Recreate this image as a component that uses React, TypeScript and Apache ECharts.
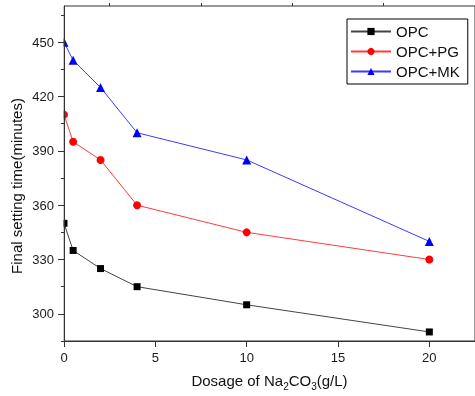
import React, { useEffect, useRef } from "react";
import * as echarts from "echarts";

const dosage = [0, 0.5, 2, 4, 10, 20];
const opc = [350, 335, 325, 315, 305, 290];
const opcPG = [410, 395, 385, 360, 345, 330];
const opcMK = [450, 440, 425, 400, 385, 340];
const yMajorTicks = [300, 330, 360, 390, 420, 450];
const yMinorTicks = [285, 315, 345, 375, 405, 435, 465];
const xMajorTicks = [0, 5, 10, 15, 20];
const xMinorTicks = [2.5, 7.5, 12.5, 17.5, 22.5];
const seriesNames = ["OPC", "OPC+PG", "OPC+MK"];

const FONT = "'Liberation Sans', Arial, sans-serif";
const AXIS = "#333";

export default function App() {
  const ref = useRef<HTMLDivElement>(null);
  useEffect(() => {
    document.body.style.margin = "0";
    const chart = echarts.init(ref.current!, null, { renderer: "svg" });
    const pts = (ys: number[]) => dosage.map((x, i) => [x, ys[i]]);
    const baseAxis = {
      min: 0,
      max: 22.5,
      type: "value" as const,
      splitLine: { show: false },
    };
    chart.setOption({
      animation: false,
      textStyle: { fontFamily: FONT },
      grid: {
        left: 64,
        top: 6,
        right: -3,
        bottom: 52,
        show: true,
        borderColor: AXIS,
        borderWidth: 1,
        backgroundColor: "transparent",
      },
      legend: {
        orient: "vertical",
        left: 347,
        top: 19,
        borderColor: "#000",
        borderWidth: 1,
        backgroundColor: "#fff",
        padding: [5, 8, 5, 3],
        itemWidth: 40,
        itemHeight: 9,
        itemGap: 5,
        textStyle: { fontSize: 15, color: "#111", fontFamily: FONT },
        data: seriesNames,
        z: 10,
      },
      xAxis: [
        {
          ...baseAxis,
          z: 5,
          axisLine: { show: true, lineStyle: { color: AXIS, width: 1 } },
          axisTick: {
            show: true,
            inside: false,
            length: 6,
            customValues: xMajorTicks,
            lineStyle: { color: AXIS },
          },
          axisLabel: {
            customValues: xMajorTicks,
            fontSize: 13,
            color: "#1a1a1a",
            margin: 10,
          },
          name: "{a|Dosage of Na}{s|2}{a|CO}{s|3}{a|(g/L)}",
          nameLocation: "middle",
          nameGap: 28,
          nameTextStyle: {
            rich: {
              a: { fontSize: 15, color: "#111", lineHeight: 22, fontFamily: FONT },
              s: { fontSize: 10, color: "#111", lineHeight: 10, verticalAlign: "bottom", fontFamily: FONT },
            },
          },
        },
        {
          ...baseAxis,
          z: 5,
          axisLine: { show: false },
          axisTick: {
            show: true,
            inside: false,
            length: 3,
            customValues: xMinorTicks,
            lineStyle: { color: AXIS },
          },
          axisLabel: { show: false },
        },
      ],
      yAxis: [
        {
          type: "value",
          min: 285,
          max: 470,
          z: 5,
          splitLine: { show: false },
          axisLine: { show: true, lineStyle: { color: AXIS, width: 1 } },
          axisTick: {
            show: true,
            inside: false,
            length: 6,
            customValues: yMajorTicks,
            lineStyle: { color: AXIS },
          },
          axisLabel: {
            customValues: yMajorTicks,
            fontSize: 13,
            color: "#1a1a1a",
            margin: 10,
          },
        },
        {
          type: "value",
          min: 285,
          max: 470,
          position: "left",
          z: 5,
          splitLine: { show: false },
          axisLine: { show: false },
          axisTick: {
            show: true,
            inside: false,
            length: 3,
            customValues: yMinorTicks,
            lineStyle: { color: AXIS },
          },
          axisLabel: { show: false },
        },
      ],
      graphic: [
        {
          type: "rect",
          shape: { x: 50, y: 6, width: 13.5, height: 338 },
          style: { fill: "#fff" },
          z: 3,
          silent: true,
        },
        {
          type: "text",
          x: 16,
          y: 186,
          rotation: Math.PI / 2,
          style: {
            text: "Final setting time(minutes)",
            font: `15px ${FONT}`,
            fill: "#111",
            align: "center",
            verticalAlign: "middle",
          },
          z: 6,
        },
      ],
      series: [
        {
          name: seriesNames[0],
          type: "line",
          data: pts(opc),
          symbol: "rect",
          symbolSize: 7,
          itemStyle: { color: "#000" },
          lineStyle: { color: "#444", width: 1 },
          clip: false,
          z: 2,
        },
        {
          name: seriesNames[1],
          type: "line",
          data: pts(opcPG),
          symbol: "circle",
          symbolSize: 8,
          itemStyle: { color: "#ff0000" },
          lineStyle: { color: "#ff3b3b", width: 1 },
          clip: false,
          z: 2,
        },
        {
          name: seriesNames[2],
          type: "line",
          data: pts(opcMK),
          symbol: "triangle",
          symbolSize: 9,
          itemStyle: { color: "#0000ff" },
          lineStyle: { color: "#3b3bff", width: 1 },
          clip: false,
          z: 2,
        },
      ],
    });
    return () => chart.dispose();
  }, []);
  return (
    <div
      ref={ref}
      style={{ position: "fixed", left: 0, top: 0, width: 475, height: 396 }}
    />
  );
}
